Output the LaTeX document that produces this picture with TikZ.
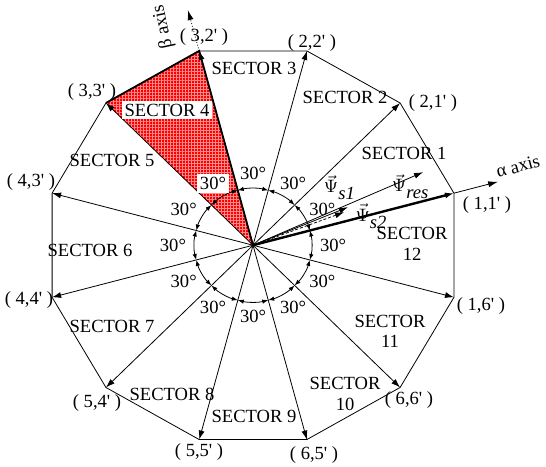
\documentclass[tikz,border=0pt]{standalone}
\usepackage{fontspec}
\setmainfont{Liberation Serif}
\usetikzlibrary{arrows.meta,patterns.meta}
\newcommand{\state}[2]{( #1,#2\textquotesingle{} )}
\newcommand{\flux}[1]{$\vec{\Psi}$\raisebox{-.8ex}{\itshape #1}}

\begin{document}
\begin{tikzpicture}[x=1.83cm,y=1.77cm,font=\fontsize{9.3}{10.5}\selectfont,
    voltvec/.style={-{Latex[length=4.5pt,width=3pt]}},
    anglearc/.style={{Latex[length=3pt,width=2.2pt]}-{Latex[length=3pt,width=2.2pt]}},
    sectorlbl/.style={inner sep=1.5pt,align=center},
    fluxlbl/.style={inner sep=0pt}]
  \useasboundingbox (-2.433,-2.199) rectangle (2.817,2.438);
  \coordinate (o) at (0,0);
  \foreach \i in {1,...,12}
    \coordinate (v\i) at ({30*\i-15}:2);
  % sector 4
  \fill[red] (o) -- (v4) -- (v5) -- cycle;
  \fill[pattern={Hatch[distance=1.5pt,line width=.4pt]},pattern color=white!55!red]
    (o) -- (v4) -- (v5) -- cycle;
  \draw[line width=.9pt] (v5) -- (v4) -- (o);
  \draw (v1) \foreach \i in {2,...,12} { -- (v\i) } -- cycle;
  \foreach \i in {2,...,12}
    \draw[voltvec] (o) -- (v\i);
  \draw[voltvec,line width=1.2pt] (o) -- (v1);
  % axes
  \coordinate (atip) at (15:2.44);
  \coordinate (btip) at (105:2.42);
  \draw[-{Latex[length=5pt,width=3pt]}] (v1) -- (atip);
  \draw[densely dotted,-{Latex[length=5pt,width=3pt]}] (v4) -- (btip);
  \node[rotate=15] (alab) at (2.548,0.786) {α axis};
  \node[rotate=102] (blab) at (-0.865,2.169) {β axis};
  % 30 degree arcs
  \foreach \a in {15,45,...,345}
    \draw[anglearc] (\a:.565) arc[start angle=\a,end angle=\a+30,radius=.565];
  \foreach \a in {0,30,...,330}
    \node[inner sep=1pt] (d\a) at (\a:0.77 and 0.71) {30°};
  \node[fill=white,inner sep=1.5pt] at (d120) {30°};
  % flux vectors
  \coordinate (res) at (1.635,0.726);
  \coordinate (s1) at (0.913,0.378);
  \coordinate (s2) at (0.875,0.328);
  \draw[voltvec] (o) -- (res);
  \draw[voltvec] (o) -- (s1);
  \draw[voltvec,dash pattern=on 1.5pt off 1pt] (o) -- (s2);
  \node[fluxlbl] (ls1) at (0.83,0.575) {\flux{s1}};
  \node[fluxlbl] (lres) at (1.51,0.585) {\flux{res}};
  \node[fluxlbl] (ls2) at (1.135,0.29) {\flux{s2}};
  % switching states
  \node (n11) at (2.25,0.40) {\state{1}{1}};
  \node (n21) at (1.73,1.41) {\state{2}{1}};
  \node (n22) at (0.567,2.01) {\state{2}{2}};
  \node (n32) at (-0.471,2.07) {\state{3}{2}};
  \node (n33) at (-1.548,1.522) {\state{3}{3}};
  \node (n43) at (-2.135,0.627) {\state{4}{3}};
  \node (n44) at (-2.154,-0.547) {\state{4}{4}};
  \node (n54) at (-1.5,-1.572) {\state{5}{4}};
  \node (n55) at (-0.519,-2.06) {\state{5}{5}};
  \node (n65) at (0.587,-2.09) {\state{6}{5}};
  \node (n66) at (1.5,-1.542) {\state{6}{6}};
  \node (n16) at (2.192,-0.607) {\state{1}{6}};
  % sectors
  \node[sectorlbl] (sec1) at (1.452,0.915) {SECTOR 1};
  \node[sectorlbl] (sec2) at (0.885,1.473) {SECTOR 2};
  \node[sectorlbl] (sec3) at (0.01,1.761) {SECTOR 3};
  \node[sectorlbl,fill=white] (sec4) at (-0.827,1.343) {SECTOR 4};
  \node[sectorlbl] (sec5) at (-1.356,0.846) {SECTOR 5};
  \node[sectorlbl] (sec6) at (-1.567,-0.05) {SECTOR 6};
  \node[sectorlbl] (sec7) at (-1.356,-0.806) {SECTOR 7};
  \node[sectorlbl] (sec8) at (-0.779,-1.483) {SECTOR 8};
  \node[sectorlbl] (sec9) at (0.01,-1.701) {SECTOR 9};
  \node[sectorlbl] (sec10) at (0.885,-1.483) {SECTOR\\10};
  \node[sectorlbl] (sec11) at (1.317,-0.856) {SECTOR\\11};
  \node[sectorlbl] (sec12) at (1.529,0.01) {SECTOR\\12};
\end{tikzpicture}
\end{document}
